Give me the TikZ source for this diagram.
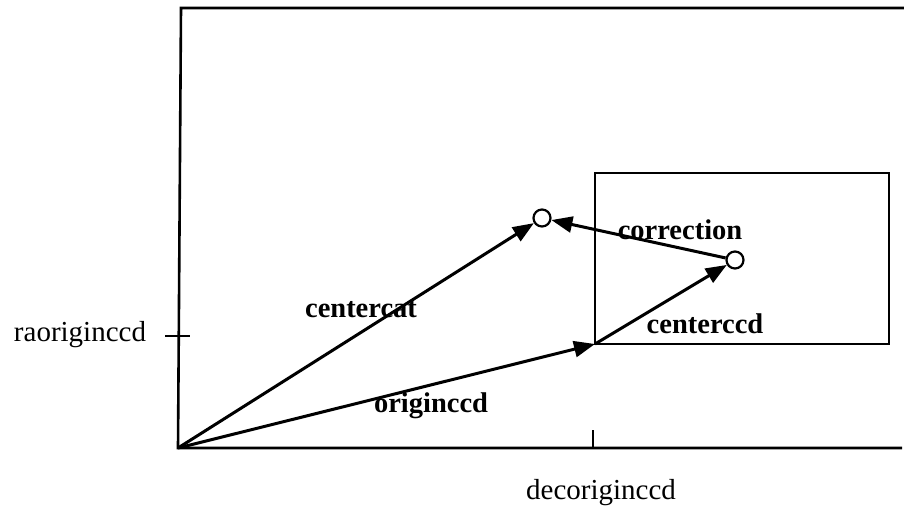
\documentclass[tikz,border=0pt]{standalone}
\usepackage{fontspec}
\setmainfont{Liberation Serif}
\usetikzlibrary{arrows.meta}
\begin{document}
\begin{tikzpicture}[x=1pt,y=-1pt,
  axis/.style={line width=2.6pt},
  vec/.style={line width=3pt,-{Triangle[length=21pt,width=16pt]}},
  lbl/.style={font=\fontsize{28.5}{32}\selectfont\bfseries,inner sep=0pt},
  plain/.style={font=\fontsize{29}{32}\selectfont,inner sep=0pt},
  pt/.style={circle,draw,line width=2.2pt,minimum size=17pt,inner sep=0pt,fill=white}]
\useasboundingbox (0,0) rectangle (904,512);
\coordinate (O) at (178,448);
\coordinate (TL) at (181,8);
\coordinate (TR) at (904,8);
\coordinate (BR) at (902,448);
\draw[axis] (TR) -- (TL) -- (O) -- (BR);
% ticks
\coordinate (tb1) at (593,430);
\coordinate (tb2) at (593,448);
\draw[axis] (tb1) -- (tb2);
\coordinate (tl1) at (165,336);
\coordinate (tl2) at (190,336);
\draw[axis] (tl1) -- (tl2);
% box
\coordinate (C) at (595,344);
\draw[line width=2pt] (C) rectangle (889,173);
% points
\node[pt] (P1) at (542,218) {};
\node[pt] (P2) at (735,260) {};
% vectors
\draw[vec] (O) -- (P1);
\draw[vec] (O) -- (C);
\draw[vec] (C) -- (P2);
\draw[vec] (P2) -- (P1);
% labels
\node[lbl] (lcat) at (361,310) {centercat};
\node[lbl] (lorig) at (431,406) {originccd};
\node[lbl] (lcorr) at (680,230) {correction};
\node[lbl] (lccd) at (705,324) {centerccd};
\node[plain] (lra) at (80,335) {raoriginccd};
\node[plain] (ldec) at (601,493) {decoriginccd};
\end{tikzpicture}
\end{document}
